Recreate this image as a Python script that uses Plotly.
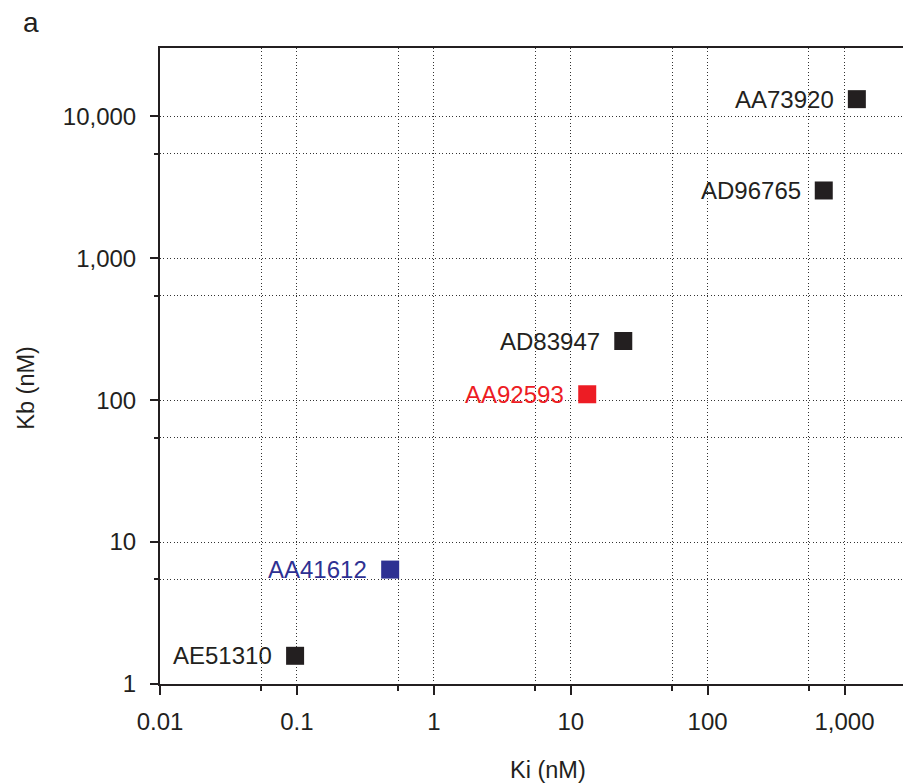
import numpy as np
import plotly.graph_objects as go

# Compound potency data: inhibition constant vs binding constant
compounds = ["AA73920", "AD96765", "AD83947", "AA92593", "AA41612", "AE51310"]
ki_nM = [1230, 705, 24.2, 13.2, 0.48, 0.097]
kb_nM = [13200, 3000, 261, 110, 6.4, 1.58]
point_colors = ["#231f20", "#231f20", "#231f20", "#ed1c24", "#2e3192", "#231f20"]

x_ticks = [0.01, 0.1, 1, 10, 100, 1000]
x_ticktext = ["0.01", "0.1", "1", "10", "100", "1,000"]
y_ticks = [1, 10, 100, 1000, 10000]
y_ticktext = ["1", "10", "100", "1,000", "10,000"]
x_minor = [0.055, 0.55, 5.5, 55, 550]
y_minor = [5.45, 54.5, 545, 5450]

INK = "#231f20"
GRID = "#333333"
DOTS = "1px,2.4px"
FONT = "Liberation Sans, Arial, sans-serif"

fig = go.Figure()
fig.add_trace(go.Scatter(
    x=ki_nM, y=kb_nM, mode="markers",
    marker=dict(symbol="square", size=18, color=point_colors, line=dict(width=0)),
    hoverinfo="skip", showlegend=False,
))

annotations = []
for name, xv, yv, col in zip(compounds, ki_nM, kb_nM, point_colors):
    annotations.append(dict(
        x=np.log10(xv), y=np.log10(yv), xref="x", yref="y",
        text=name, showarrow=False, xanchor="right", yanchor="middle",
        xshift=-21, yshift=0, font=dict(size=24, color=col, family=FONT),
    ))

annotations += [
    dict(text="a", x=30, y=22, showarrow=False,
         font=dict(size=28, color=INK, family=FONT)),
    dict(text="Ki (nM)", x=548, y=770, showarrow=False,
         font=dict(size=23.5, color=INK, family=FONT)),
    dict(text="Kb (nM)", x=25, y=388, showarrow=False, textangle=-90,
         font=dict(size=23.5, color=INK, family=FONT)),
]
# convert pixel-placed labels to paper coordinates
W, H = 903, 784
ML, MR, MT, MB = 159.5, 0, 47.5, 99.7
pw, ph = W - ML - MR, H - MT - MB
for a in annotations:
    if "xref" not in a:
        a["xref"], a["yref"] = "paper", "paper"
        a["x"] = (a["x"] - ML) / pw
        a["y"] = (H - MB - a["y"]) / ph
        a["xanchor"], a["yanchor"] = "center", "middle"

axis_common = dict(
    type="log", showline=True, linecolor=INK, linewidth=2,
    ticks="outside", tickwidth=2, tickcolor=INK,
    showgrid=True, gridcolor=GRID, gridwidth=1, griddash=DOTS,
    zeroline=False, tickfont=dict(size=24, color=INK, family=FONT),
)

fig.update_xaxes(
    **axis_common, range=[-2, 3.427], tickvals=x_ticks, ticktext=x_ticktext,
    ticklen=9, mirror=True, ticklabelstandoff=6,
    minor=dict(tickvals=x_minor, ticks="outside", ticklen=5, tickwidth=1.5,
               tickcolor=INK, showgrid=True, gridcolor=GRID,
               griddash=DOTS, gridwidth=1),
)
fig.update_yaxes(
    **axis_common, range=[0, 4.481], tickvals=y_ticks, ticktext=y_ticktext,
    ticklen=8, ticklabelstandoff=9,
    minor=dict(tickvals=y_minor, ticks="outside", ticklen=4, tickwidth=1.5,
               tickcolor=INK, showgrid=True, gridcolor=GRID,
               griddash=DOTS, gridwidth=1),
)

fig.update_layout(
    width=W, height=H, margin=dict(l=ML, r=MR, t=MT, b=MB),
    plot_bgcolor="white", paper_bgcolor="white",
    annotations=annotations, font=dict(family=FONT, color=INK),
)

fig.write_html("out.html")
